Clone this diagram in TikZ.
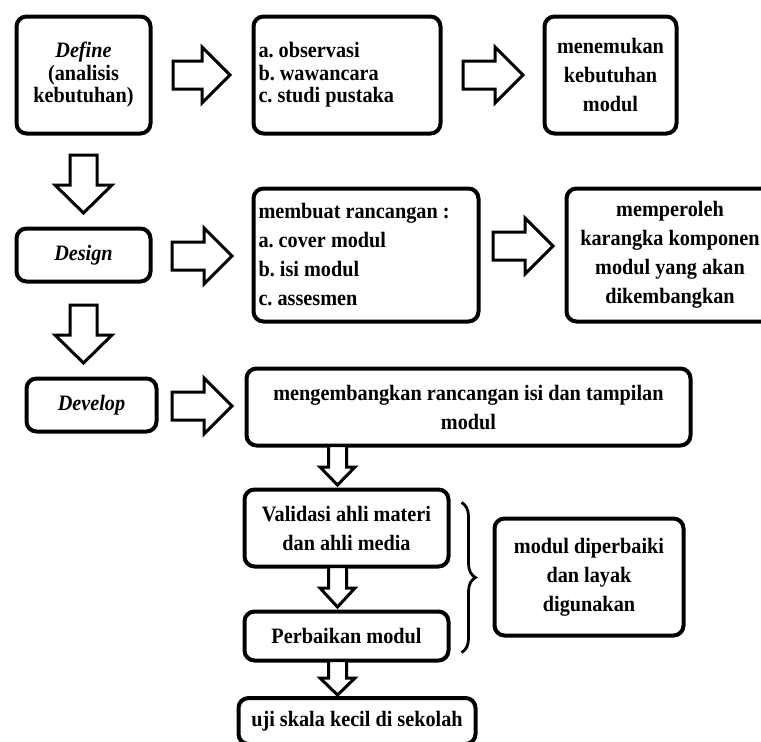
\documentclass[tikz,border=0pt]{standalone}
\usepackage{fontspec}
\setmainfont[FakeStretch=0.92]{Liberation Serif}
\usetikzlibrary{calc,decorations.pathreplacing}
\frenchspacing

% outlined block arrows between two points
\newcommand{\rarr}[2]{%
  \draw[fat] let \p1=#1, \p2=#2 in
    (\x1,\y1+14pt) -- (\x2-28pt,\y1+14pt) -- (\x2-28pt,\y1+28pt) -- (\x2,\y1)
    -- (\x2-28pt,\y1-28pt) -- (\x2-28pt,\y1-14pt) -- (\x1,\y1-14pt) -- cycle;}
\newcommand{\darr}[5]{%
  \draw[fat] let \p1=#1, \p2=#2 in
    (\x1-#3,\y1) -- (\x1-#3,\y2+#5) -- (\x1-#4,\y2+#5) -- (\x1,\y2)
    -- (\x1+#4,\y2+#5) -- (\x1+#3,\y2+#5) -- (\x1+#3,\y1) -- cycle;}

\begin{document}
\begin{tikzpicture}[
    x=1pt,
    y=-1pt,
    box/.style={draw, line width=4pt, rounded corners=10pt, align=center, inner sep=2pt, outer sep=0pt, font=\fontsize{22}{29}\selectfont\bfseries},
    tight/.style={font=\fontsize{22}{22.5}\selectfont\bfseries},
    list/.style={align=flush left, inner xsep=5pt},
    fat/.style={draw, line width=3pt, fill=white, line join=miter},
    brace/.style={decorate, decoration={brace, amplitude=14pt}, line width=2.8pt}
]
\useasboundingbox (0,0) rectangle (761,742);

\node[box, tight, minimum width=134pt, minimum height=117pt] (define) at (83.5,75) {\textit{Define}\\(analisis\\kebutuhan)};
\node[box, tight, list, text width=177pt, minimum height=117pt] (obs) at (347,75) {a. observasi\\b. wawancara\\c. studi pustaka};
\node[box, minimum width=132pt, minimum height=117pt] (need) at (610.5,75) {menemukan\\kebutuhan\\modul};
\node[box, minimum width=134pt, minimum height=53pt] (design) at (83.5,255) {\textit{Design}};
\node[box, list, text width=215pt, minimum height=133pt] (plan) at (366,255) {membuat rancangan :\\a. cover modul\\b. isi modul\\c. assesmen};
\node[box, minimum width=207pt, minimum height=133pt] (frame) at (670,255) {memperoleh\\karangka komponen\\modul yang akan\\dikembangkan};
\node[box, minimum width=130pt, minimum height=53pt] (develop) at (91.5,405) {\textit{Develop}};
\node[box, minimum width=444pt, minimum height=77pt] (dev) at (468.5,407) {mengembangkan rancangan isi dan tampilan\\modul};
\node[box, minimum width=204pt, minimum height=77pt] (valid) at (346.5,528) {Validasi ahli materi\\dan ahli media};
\node[box, minimum width=204pt, minimum height=49pt] (fix) at (346.5,636) {Perbaikan modul};
\node[box, minimum width=237pt, minimum height=46pt] (test) at (357,721) {uji skala kecil di sekolah};
\node[box, minimum width=189pt, minimum height=117pt] (result) at (589,577) {modul diperbaiki\\dan layak\\digunakan};

% horizontal arrows
\rarr{($(define.east)+(22.5,0)$)}{($(obs.west)+(-23.5,0)$)}
\rarr{($(obs.east)+(22.5,0)$)}{($(need.west)+(-21.5,0)$)}
\rarr{($(design.east)+(21.5,1)$)}{($(plan.west)+(-21.5,1)$)}
\rarr{($(plan.east)+(14.5,-9)$)}{($(frame.west)+(-13.5,-9)$)}
\rarr{($(develop.east)+(15.5,1)$)}{($(dev.west)+(-14.5,1)$)}

% vertical arrows
\darr{($(define.south)+(0,21.5)$)}{($(design.north)+(0,-15.5)$)}{13.5pt}{28.5pt}{28pt}
\darr{($(design.south)+(0,23.5)$)}{($(develop.north)+(0,-15.5)$)}{13.5pt}{28.5pt}{28pt}
\darr{($(dev.south -| valid.north)+(-9,0)$)}{($(valid.north)+(-9,-4.5)$)}{9pt}{17.5pt}{18pt}
\darr{($(valid.south)+(-9,0)$)}{($(fix.north)+(-9,-4.5)$)}{9pt}{17.5pt}{19pt}
\darr{($(fix.south)+(-9,0)$)}{($(test.north)+(-9,-3)$)}{9pt}{17.5pt}{17pt}

\draw[brace] ($(valid.north east)+(13,13)$) -- ($(fix.south east)+(13,-8)$);
\end{tikzpicture}
\end{document}
